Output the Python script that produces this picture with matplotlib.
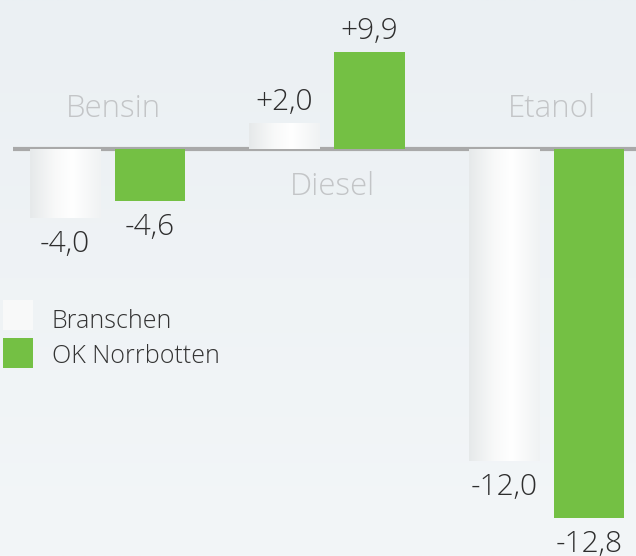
import numpy as np
import matplotlib.pyplot as plt
from matplotlib.colors import LinearSegmentedColormap
from matplotlib.patches import Rectangle

# ── Data ───────────────────────────────────────────────────────────────────────
categories = ["Bensin", "Diesel", "Etanol"]
series_names = ["Branschen", "OK Norrbotten"]
labels_branschen = ["-4,0", "+2,0", "-12,0"]
labels_ok = ["-4,6", "+9,9", "-12,8"]
# the infographic is not drawn to scale, so bar lengths are read off the picture
# (drawn length, 1 unit = 10 px)
bar_branschen = [-6.9, 2.6, -31.2]
bar_ok = [-5.2, 9.7, -36.9]

GREEN = "#74c044"
BG_TOP, BG_BOT = "#ebf0f3", "#f3f6f8"
WIDTH = 0.319
OFFSET = 0.1936
W, H = 636, 556

plt.rcParams["font.family"] = ["Open Sans", "DejaVu Sans"]

fig = plt.figure(figsize=(W / 100, H / 100), dpi=100)
ax = fig.add_axes([0, 0, 1, 1])
ax.set_xlim(-0.4897, 2.4077)
ax.set_ylim(-40.7, 14.9)
ax.axis("off")

# background gradient
bg = LinearSegmentedColormap.from_list("bg", [BG_BOT, BG_TOP])
ax.imshow(np.linspace(0, 1, 256).reshape(-1, 1), cmap=bg, aspect="auto",
          extent=(-0.4897, 2.4077, -40.7, 14.9), origin="lower", zorder=0)

# zero line
ax.hlines(0, -0.43, 2.4077, color="#a9a9a9", lw=3, zorder=1)

x = np.arange(len(categories))
bars_b = ax.bar(x - OFFSET, bar_branschen, WIDTH, color="none", zorder=2)
bars_o = ax.bar(x + OFFSET, bar_ok, WIDTH, color=GREEN, zorder=2)

# white bars with a soft horizontal sheen
sheen = LinearSegmentedColormap.from_list(
    "sheen", [(0, "#e6e9ea"), (0.35, "#f8f9f9"), (0.6, "#ffffff"), (1, "#f0f2f3")])
grad = np.linspace(0, 1, 256).reshape(1, -1)
for rect in bars_b:
    x0, y0 = rect.get_x(), rect.get_y()
    w, h = rect.get_width(), rect.get_height()
    im = ax.imshow(grad, cmap=sheen, aspect="auto",
                   extent=(x0, x0 + w, min(y0, y0 + h), max(y0, y0 + h)), zorder=2)
    im.set_clip_path(rect)

# value labels (baseline placed relative to the bar end)
for bars, labels in [(bars_b, labels_branschen), (bars_o, labels_ok)]:
    for rect, lab in zip(bars, labels):
        h = rect.get_height()
        ax.annotate(lab, (rect.get_x() + rect.get_width() / 2, h),
                    xytext=(0, 9.5 if h > 0 else -24.5), textcoords="offset points",
                    ha="center", va="baseline", fontsize=21.5, fontweight="light",
                    color="#2e2e2e", zorder=3)

# category labels, above the line for negative groups, below for positive
for i, cat in enumerate(categories):
    neg = bar_ok[i] < 0
    ax.annotate(cat, (i, 0), xytext=(4, 23 if neg else -33), textcoords="offset points",
                ha="center", va="baseline", fontsize=22.5, fontweight="light",
                color="#c3c5c7", zorder=3)

# legend
for (y_top, base), name, col in zip([(300, 328), (338, 363)], series_names,
                                    ["#f8f9f9", GREEN]):
    fig.patches.append(Rectangle((3 / W, 1 - (y_top + 30) / H), 30 / W, 30 / H,
                                 transform=fig.transFigure, facecolor=col,
                                 edgecolor="none", zorder=3))
    fig.text(52 / W, 1 - base / H, name, ha="left", va="baseline", fontsize=18,
             fontweight="light", color="#333333")

fig.savefig("out.png", dpi=100)
